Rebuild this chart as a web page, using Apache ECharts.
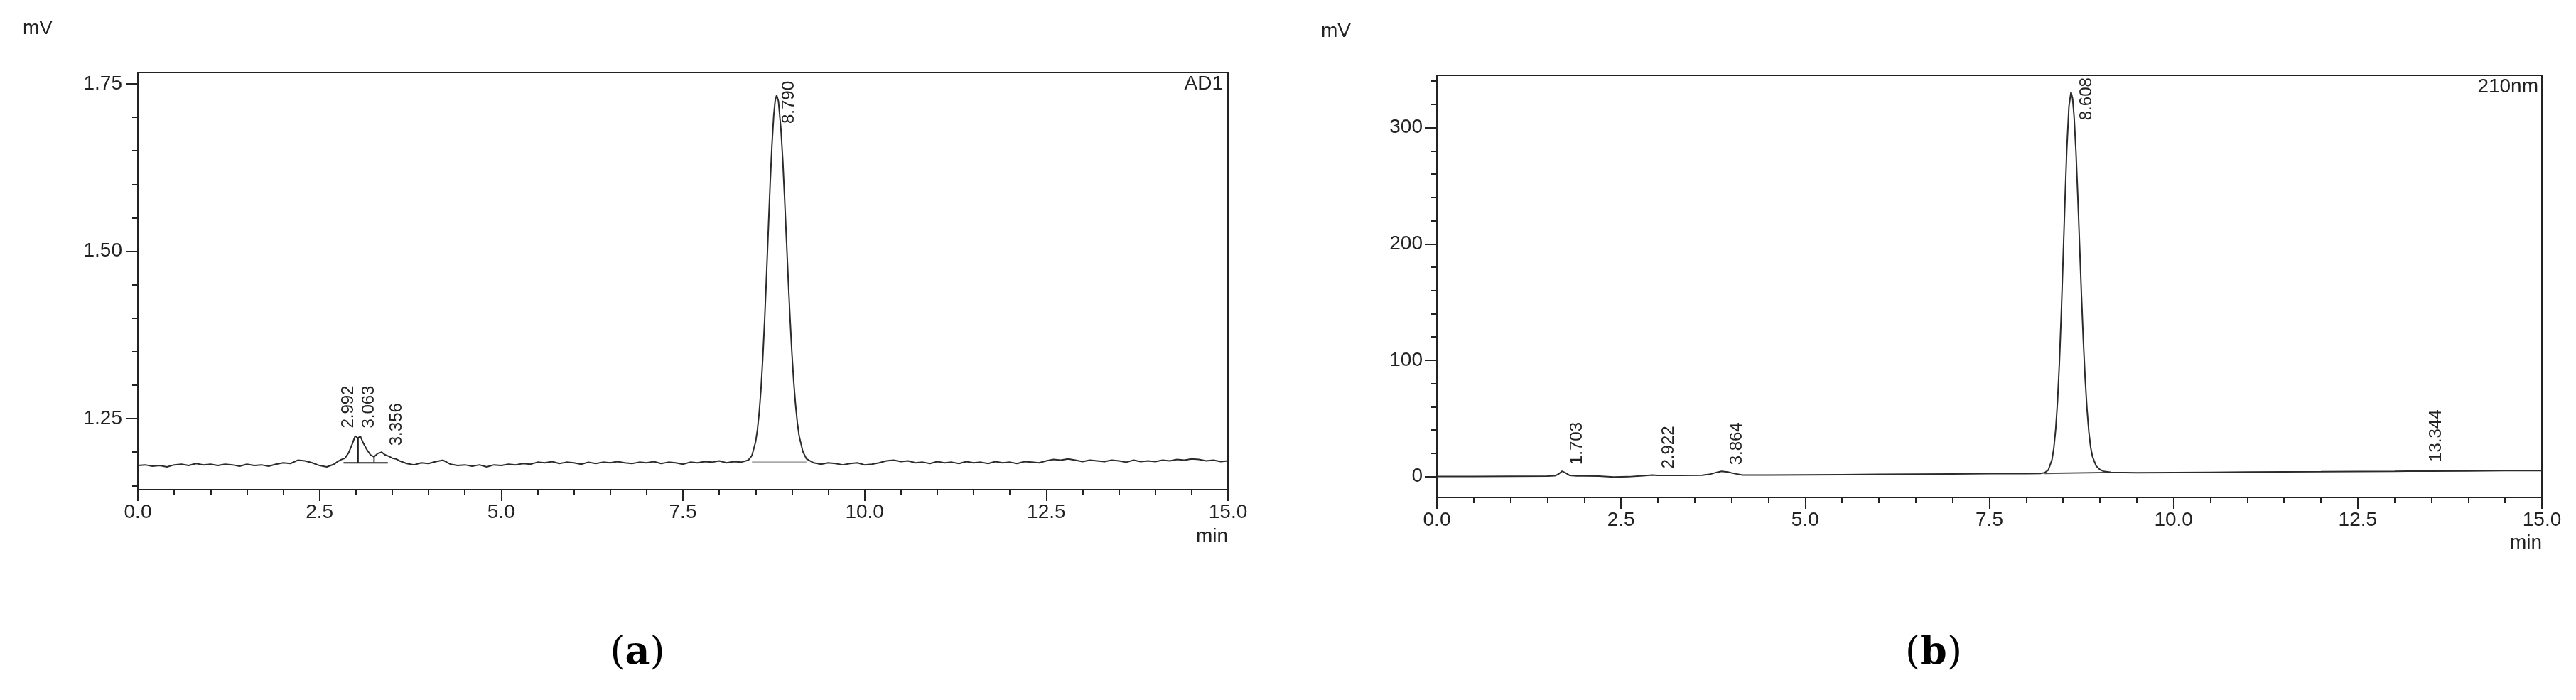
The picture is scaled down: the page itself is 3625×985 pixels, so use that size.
<!DOCTYPE html>
<html>
<head>
<meta charset="utf-8">
<script src="https://cdn.jsdelivr.net/npm/echarts@6/dist/echarts.min.js"></script>
<style>
  html, body { margin: 0; padding: 0; background: #fff; }
  #chart { width: 3625px; height: 985px; }
</style>
</head>
<body>
<div id="chart"></div>
<script>
// (a) AD1 trace: retention time (min) and signal (mV)
const timeA = [
  0.0, 0.1, 0.2, 0.3, 0.4, 0.5, 0.6, 0.7, 0.8, 0.9, 1.0, 1.1, 1.2, 1.3, 1.4, 1.5, 1.6, 1.7, 1.8, 1.9,
  2.0, 2.1, 2.2, 2.3, 2.4, 2.5, 2.6, 2.7, 2.75, 2.8, 2.85, 2.9, 2.95, 2.99, 3.03, 3.06, 3.1, 3.15, 3.2, 3.25,
  3.3, 3.356, 3.4, 3.45, 3.5, 3.55, 3.6, 3.7, 3.8, 3.9, 4.0, 4.1, 4.2, 4.3, 4.4, 4.5, 4.6, 4.7, 4.8, 4.9,
  5.0, 5.1, 5.2, 5.3, 5.4, 5.5, 5.6, 5.7, 5.8, 5.9, 6.0, 6.1, 6.2, 6.3, 6.4, 6.5, 6.6, 6.7, 6.8, 6.9,
  7.0, 7.1, 7.2, 7.3, 7.4, 7.5, 7.6, 7.7, 7.8, 7.9, 8.0, 8.1, 8.2, 8.3, 8.4, 8.45, 8.5, 8.525, 8.55, 8.575,
  8.6, 8.625, 8.65, 8.675, 8.7, 8.725, 8.75, 8.77, 8.79, 8.815, 8.85, 8.875, 8.9, 8.925, 8.95, 8.975, 9.0, 9.025, 9.05, 9.075,
  9.1, 9.15, 9.2, 9.3, 9.4, 9.5, 9.6, 9.7, 9.8, 9.9, 10.0, 10.1, 10.2, 10.3, 10.4, 10.5, 10.6, 10.7, 10.8, 10.9,
  11.0, 11.1, 11.2, 11.3, 11.4, 11.5, 11.6, 11.7, 11.8, 11.9, 12.0, 12.1, 12.2, 12.3, 12.4, 12.5, 12.6, 12.7, 12.8, 12.9,
  13.0, 13.1, 13.2, 13.3, 13.4, 13.5, 13.6, 13.7, 13.8, 13.9, 14.0, 14.1, 14.2, 14.3, 14.4, 14.5, 14.6, 14.7, 14.8, 14.9, 15.0
];
const signalA = [
  1.180, 1.181, 1.179, 1.180, 1.178, 1.181, 1.182, 1.180, 1.183, 1.181, 1.182, 1.180, 1.182, 1.181, 1.179, 1.182, 1.180, 1.181, 1.179, 1.182,
  1.184, 1.183, 1.188, 1.187, 1.184, 1.180, 1.178, 1.182, 1.186, 1.189, 1.191, 1.199, 1.212, 1.224, 1.221, 1.224, 1.214, 1.204, 1.196, 1.193,
  1.198, 1.200, 1.196, 1.194, 1.191, 1.190, 1.187, 1.183, 1.181, 1.184, 1.183, 1.186, 1.188, 1.182, 1.180, 1.181, 1.179, 1.181, 1.178, 1.181,
  1.180, 1.182, 1.181, 1.183, 1.182, 1.185, 1.184, 1.186, 1.183, 1.185, 1.184, 1.182, 1.185, 1.183, 1.185, 1.184, 1.186, 1.184, 1.183, 1.185,
  1.184, 1.186, 1.183, 1.185, 1.184, 1.182, 1.185, 1.184, 1.186, 1.185, 1.187, 1.184, 1.186, 1.185, 1.188, 1.195, 1.215, 1.233, 1.259, 1.295,
  1.342, 1.398, 1.462, 1.531, 1.599, 1.658, 1.703, 1.725, 1.733, 1.724, 1.681, 1.635, 1.578, 1.517, 1.456, 1.399, 1.348, 1.305, 1.271, 1.244,
  1.224, 1.201, 1.190, 1.184, 1.182, 1.184, 1.183, 1.181, 1.183, 1.184, 1.181, 1.182, 1.184, 1.187, 1.188, 1.186, 1.187, 1.184, 1.185, 1.183,
  1.186, 1.184, 1.185, 1.183, 1.186, 1.184, 1.185, 1.183, 1.186, 1.184, 1.185, 1.183, 1.186, 1.185, 1.184, 1.187, 1.189, 1.188, 1.190, 1.188,
  1.186, 1.188, 1.187, 1.186, 1.188, 1.187, 1.185, 1.188, 1.186, 1.187, 1.186, 1.188, 1.187, 1.189, 1.188, 1.190, 1.189, 1.187, 1.188, 1.186, 1.187
];

// (b) 210nm trace
const timeB = [
  0.0, 0.5, 1.0, 1.5, 1.6, 1.65, 1.7, 1.75, 1.8, 1.9, 2.0, 2.2, 2.4, 2.6, 2.8, 2.922, 3.0, 3.3, 3.6, 3.7,
  3.8, 3.864, 3.95, 4.05, 4.15, 4.5, 5.0, 5.5, 6.0, 6.5, 7.0, 7.5, 8.0, 8.2, 8.25, 8.3, 8.35, 8.375, 8.4, 8.425,
  8.45, 8.475, 8.5, 8.525, 8.55, 8.58, 8.608, 8.63, 8.65, 8.675, 8.7, 8.725, 8.75, 8.775, 8.8, 8.825, 8.85, 8.875, 8.9, 8.95,
  9.0, 9.05, 9.15, 9.5, 10.0, 10.5, 11.0, 11.5, 12.0, 12.5, 13.0, 13.344, 13.5, 14.0, 14.5, 15.0
];
const signalB = [
  0.0, 0.1, 0.2, 0.4, 0.6, 2.0, 4.6, 3.0, 1.0, 0.5, 0.5, 0.4, -0.4, -0.2, 0.7, 1.2, 0.9, 1.0, 1.1, 1.8,
  3.6, 4.4, 3.8, 2.4, 1.3, 1.2, 1.4, 1.6, 1.8, 2.0, 2.2, 2.4, 2.5, 2.7, 3.2, 5.6, 14.5, 24.6, 40.5, 64.3,
  97.0, 138.3, 185.8, 235.3, 280.1, 318.2, 330.8, 324.8, 309.6, 279.6, 241.0, 198.3, 155.8, 117.1, 84.2, 58.1, 38.6, 24.9, 17.0, 9.0,
  6.0, 4.5, 3.6, 3.3, 3.4, 3.6, 3.8, 4.0, 4.1, 4.3, 4.5, 4.7, 4.6, 4.8, 5.0, 5.1
];

// peak retention times (labels) and apex heights
const peaksA = [2.992, 3.063, 3.356, 8.790];
const apexA = [1.224, 1.224, 1.200, 1.733];
const peaksB = [1.703, 2.922, 3.864, 8.608, 13.344];
const apexB = [4.6, 1.2, 4.4, 330.8, 4.7];

// integration marks drawn by the software on (a)
const baseMarkA = [[2.83, 1.184], [3.44, 1.184]];
const dropMarkA = [[3.03, 1.184], [3.03, 1.221]];
const splitMarkA = [[3.25, 1.184], [3.25, 1.193]];
const mainBaseA = [[8.45, 1.185], [9.2, 1.185]];
const mainBaseB = [[8.25, 2.7], [9.15, 3.6]];

// axis ticks
const yTicksA = [1.25, 1.50, 1.75];
const yMinorA = [1.15, 1.20, 1.30, 1.35, 1.40, 1.45, 1.55, 1.60, 1.65, 1.70];
const yTicksB = [0, 100, 200, 300];
const yMinorB = [20, 40, 60, 80, 120, 140, 160, 180, 220, 240, 260, 280, 320, 340];

const FONT = '"Liberation Sans", Arial, sans-serif';
const INK = '#222';

const chart = echarts.init(document.getElementById('chart'), null, { renderer: 'canvas' });

function xAxisFor(gi) {
  return {
    type: 'value', gridIndex: gi, min: 0, max: 15, interval: 2.5,
    axisLine: { show: true, onZero: false, lineStyle: { color: INK, width: 2 } },
    axisTick: { show: true, length: 16, lineStyle: { color: INK, width: 2 } },
    minorTick: { show: true, splitNumber: 5, length: 8, lineStyle: { color: INK, width: 2 } },
    axisLabel: { margin: 18, fontSize: 28, color: INK, fontFamily: FONT, formatter: v => v.toFixed(1) },
    splitLine: { show: false }
  };
}

function yMajor(gi, min, max, ticks, digits, margin) {
  return {
    type: 'value', gridIndex: gi, min: min, max: max, position: 'left',
    axisLine: { show: true, onZero: false, lineStyle: { color: INK, width: 2 } },
    axisTick: { show: true, length: 17, customValues: ticks, lineStyle: { color: INK, width: 2 } },
    axisLabel: { customValues: ticks, margin: margin, fontSize: 28, color: INK, fontFamily: FONT,
      formatter: v => v.toFixed(digits) },
    splitLine: { show: false }
  };
}

function yMinor(gi, min, max, ticks) {
  return {
    type: 'value', gridIndex: gi, min: min, max: max, position: 'left',
    axisLine: { show: false },
    axisTick: { show: true, length: 8, customValues: ticks, lineStyle: { color: INK, width: 2 } },
    axisLabel: { show: false },
    splitLine: { show: false }
  };
}

function pairs(xs, ys) {
  return xs.map((x, i) => [x, ys[i]]);
}

function mark(data, xi, yi, color) {
  return {
    type: 'line', xAxisIndex: xi, yAxisIndex: yi, data: data, showSymbol: false, silent: true,
    lineStyle: { color: color, width: 2 }, z: 3
  };
}

chart.setOption({
  animation: false,
  backgroundColor: '#fff',
  grid: [
    { left: 194, top: 102, width: 1534, height: 587, show: true, borderColor: INK, borderWidth: 2 },
    { left: 2022, top: 106, width: 1555, height: 594, show: true, borderColor: INK, borderWidth: 2 }
  ],
  xAxis: [xAxisFor(0), xAxisFor(1)],
  yAxis: [
    yMajor(0, 1.144, 1.767, yTicksA, 2, 22),
    yMinor(0, 1.144, 1.767, yMinorA),
    yMajor(1, -18, 345, yTicksB, 0, 20),
    yMinor(1, -18, 345, yMinorB)
  ],
  series: [
    {
      type: 'line', xAxisIndex: 0, yAxisIndex: 0, data: pairs(timeA, signalA),
      showSymbol: false, lineStyle: { color: '#2b2b2b', width: 2 }, z: 4
    },
    mark(baseMarkA, 0, 0, '#222'),
    mark(dropMarkA, 0, 0, '#222'),
    mark(splitMarkA, 0, 0, '#444'),
    mark(mainBaseA, 0, 0, '#aaa'),
    {
      type: 'line', xAxisIndex: 1, yAxisIndex: 2, data: pairs(timeB, signalB),
      showSymbol: false, lineStyle: { color: '#2b2b2b', width: 2 }, z: 4
    },
    mark(mainBaseB, 1, 2, '#555')
  ]
});

// rotated retention-time labels next to each peak apex
function peakLabels(gi, times, apex, shifts) {
  return times.map((t, i) => {
    const p = chart.convertToPixel({ gridIndex: gi }, [t, apex[i]]);
    return {
      type: 'text', x: p[0] + shifts[i][0], y: p[1] + shifts[i][1], rotation: Math.PI / 2,
      style: { text: t.toFixed(3), fontSize: 24, fontFamily: FONT, fill: INK, align: 'left', verticalAlign: 'middle' },
      z: 10
    };
  });
}

const shiftA = [[-10, -11], [12, -11], [21, -9], [17, 40]];
const shiftB = [[21, -9], [23, -9], [22, -9], [22, 40], [23, -13]];

function txt(x, y, text, size, align, extra) {
  return {
    type: 'text', x: x, y: y,
    style: Object.assign({ text: text, fontSize: size, fontFamily: FONT, fill: INK, align: align, verticalAlign: 'middle' }, extra || {}),
    z: 10
  };
}

function caption(x, letter) {
  return {
    type: 'text', x: x, y: 920,
    style: {
      text: '{p|(}{b|' + letter + '}{p|)}', align: 'center', verticalAlign: 'middle',
      rich: {
        p: { fontSize: 54, fontFamily: '"DejaVu Serif", "Liberation Serif", serif', fill: '#000' },
        b: { fontSize: 54, fontWeight: 'bold', fontFamily: '"DejaVu Serif", "Liberation Serif", serif', fill: '#000' }
      }
    },
    z: 10
  };
}

chart.setOption({
  graphic: [
    txt(32, 40, 'mV', 28, 'left'),
    txt(1721, 118, 'AD1', 28, 'right'),
    txt(1728, 755, 'min', 28, 'right'),
    txt(1859, 44, 'mV', 28, 'left'),
    txt(3572, 122, '210nm', 28, 'right'),
    txt(3577, 764, 'min', 28, 'right'),
    caption(897, 'a'),
    caption(2721, 'b')
  ].concat(peakLabels(0, peaksA, apexA, shiftA), peakLabels(1, peaksB, apexB, shiftB))
});

window.addEventListener('resize', () => chart.resize());
</script>
</body>
</html>
